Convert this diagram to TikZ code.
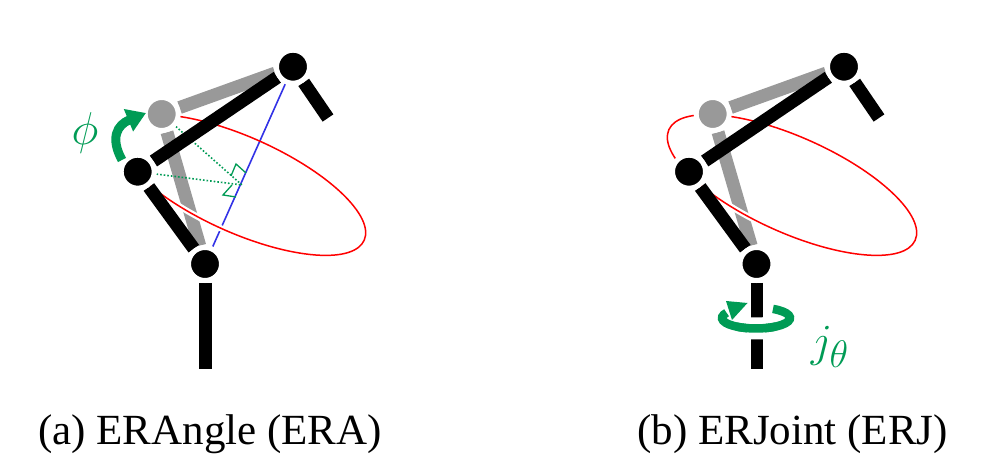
\documentclass[tikz,border=0pt]{standalone}
\usepackage{fontspec}
\setmainfont{Liberation Serif}
\usetikzlibrary{arrows.meta,positioning}

\begin{document}
\begin{tikzpicture}[
  x=1pt, y=1pt,
  joint/.style={circle, fill=black, draw=white, line width=5pt, minimum size=33pt, inner sep=0pt},
  ghost/.style={joint, fill=jgray},
  link/.style={line width=13pt, black},
  ghostlink/.style={line width=13pt, jgray},
  orbit/.style={red, line width=1.5pt},
  axisline/.style={jblue, line width=1.6pt},
  perp/.style={jgreen, line width=1.3pt},
  dots/.style={jgreen, line width=1.6pt, dotted},
  symb/.style={jgreen, font=\Huge, scale=1.85},
  caption/.style={font=\fontsize{43}{46}\selectfont, inner sep=0pt, anchor=base}
]

\definecolor{jgray}{RGB}{153,153,153}
\definecolor{jgreen}{RGB}{0,155,85}
\definecolor{jblue}{RGB}{50,50,230}

\useasboundingbox (0,0) rectangle (986,473);

% ERA
\coordinate (ca) at (241,288);
\coordinate (ea) at (328,355);
\coordinate (fa) at (205,104);
\coordinate (foot) at (242,288);
\node[joint] (ta) at (293,406.3) {};
\node[ghost] (ga) at (161.7,359) {};
\node[joint] (ma) at (137.7,301.3) {};
\node[joint] (ba) at (205,209) {};

\draw[ghostlink] (ga) -- (ta);
\draw[ghostlink] (ga) -- (ba);
\draw[axisline] (ta) -- (ba);
\begin{scope}[shift={(ca)}, rotate=-24.2]
  \draw[white, line width=6pt] (220:135 and 47.7) arc[start angle=220, end angle=320, x radius=135, y radius=47.7];
  \draw[orbit] (220:135 and 47.7) arc[start angle=220, end angle=497, x radius=135, y radius=47.7];
\end{scope}
\draw[dots] (ga) -- (foot);
\draw[dots] (ma) -- (foot);
\draw[perp] (246,300) -- (236,309) -- (231,297);
\draw[perp] (232,288) -- (223,278) -- (236,276);

\node[ghost] at (ga) {};
\draw[link] (ma) -- (ta);
\draw[link] (ma) -- (ba);
\draw[link] (ta) -- (ea);
\draw[link] (ba) -- (fa);
\node[joint] at (ta) {};
\node[joint] at (ma) {};
\node[joint] at (ba) {};

\coordinate (pa) at (122,313);
\coordinate (pb) at (146,360);
\draw[jgreen, line width=9pt, -{Triangle[length=19pt, width=23pt]}] (pa) .. controls (110,335) and (117,348) .. (pb);
\node[symb] (phi) at (85,340) {$\phi$};

% ERJ
\coordinate (cb) at (792,288);
\coordinate (eb) at (879,355);
\coordinate (fb) at (756.5,104);
\coordinate (rc) at (756,155);
\coordinate (hu) at (726,172);
\coordinate (ht) at (747.5,170);
\coordinate (hd) at (732,153);
\node[joint] (tb) at (844,406.3) {};
\node[ghost] (gb) at (712.7,359) {};
\node[joint] (mb) at (689,301.3) {};
\node[joint] (bb) at (756.5,209) {};

\draw[ghostlink] (gb) -- (tb);
\draw[ghostlink] (gb) -- (bb);
\begin{scope}[shift={(cb)}, rotate=-24.2]
  \draw[white, line width=6pt] (220:135 and 47.7) arc[start angle=220, end angle=320, x radius=135, y radius=47.7];
  \draw[orbit] (0,0) ellipse[x radius=135, y radius=47.7];
\end{scope}
\node[ghost] at (gb) {};
\draw[link] (mb) -- (tb);
\draw[link] (mb) -- (bb);
\draw[link] (tb) -- (eb);
\draw[jgreen, line width=8.5pt] ([shift={(60:34 and 10.5)}]rc) arc[start angle=60, end angle=-210, x radius=34, y radius=10.5];
\fill[jgreen] (hu) -- (ht) -- (hd) -- cycle;
\draw[link, line width=12pt] (bb) -- (fb);
\draw[white, line width=22pt] ([shift={(255:34 and 10.5)}]rc) arc[start angle=255, end angle=285, x radius=34, y radius=10.5];
\draw[jgreen, line width=8.5pt] ([shift={(235:34 and 10.5)}]rc) arc[start angle=235, end angle=305, x radius=34, y radius=10.5];
\node[joint] at (tb) {};
\node[joint] at (mb) {};
\node[joint] at (bb) {};
\node[symb] (jt) at (830,126) {$j_\theta$};

\node[caption] (capa) at (210,28) {(a) ERAngle (ERA)};
\node[caption] (capb) at (792.5,28) {(b) ERJoint (ERJ)};

\end{tikzpicture}
\end{document}
